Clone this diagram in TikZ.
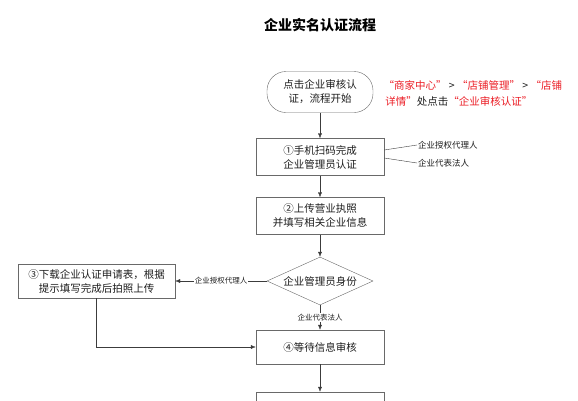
\documentclass[tikz,border=0pt]{standalone}
\usepackage{fontspec}
\setmainfont{Noto Sans CJK SC}
\usetikzlibrary{arrows.meta,positioning,shapes.geometric}
\definecolor{lineGray}{RGB}{60,60,60}
\definecolor{boxGray}{RGB}{105,105,105}
\definecolor{textGray}{RGB}{30,30,30}
\definecolor{noteRed}{RGB}{235,28,36}
\tikzset{
  proc/.style={draw=boxGray, thin, fill=white, align=center, minimum width=128pt, minimum height=37pt, inner sep=2pt, text=textGray, font=\fontsize{10.5}{14}\selectfont},
  startend/.style={draw=boxGray, thin, rounded corners=19pt, fill=white, align=center, minimum width=106pt, minimum height=41pt, text=textGray, font=\fontsize{10.5}{14}\selectfont},
  decision/.style={draw=boxGray, thin, diamond, fill=white, minimum width=106pt, minimum height=48pt, inner sep=0pt, text=textGray, font=\fontsize{10.5}{14}\selectfont},
  arrow/.style={-{Latex[length=5pt,width=4pt]}, lineGray, thin},
  link/.style={lineGray, thin},
  lbl/.style={font=\fontsize{7.5}{9}\selectfont, text=textGray, fill=white, inner sep=1pt},
  note/.style={align=left, font=\fontsize{10.5}{16}\selectfont, text=textGray}
}
\newcommand{\red}[1]{\textcolor{noteRed}{#1}}

\begin{document}
\begin{tikzpicture}[x=1pt,y=-1pt]
  \useasboundingbox (0,0) rectangle (578,400);
  \clip (0,0) rectangle (578,400);
  \node[font=\fontsize{14}{16}\selectfont\bfseries] (title) at (320,25) {企业实名认证流程};
  \node[startend] (start) at (320,92) {点击企业审核认\\证，流程开始};
  \node[note, anchor=west] (hint) at (380,93) {\red{“商家中心”} > \red{“店铺管理”} > \red{“店铺}\\\,\red{详情”}处点击\red{“企业审核认证”}};
  \node[proc] (scan) at (320,157) {①手机扫码完成\\企业管理员认证};
  \node[lbl, anchor=west, font=\fontsize{8.5}{10}\selectfont] (agentTop) at (417,145) {企业授权代理人};
  \node[lbl, anchor=west, font=\fontsize{8.5}{10}\selectfont] (legalTop) at (417,163) {企业代表法人};
  \node[proc] (upload) at (320,216) {②上传营业执照\\并填写相关企业信息};
  \node[decision] (role) at (320,281) {\makebox[0pt]{企业管理员身份}};
  \node[proc, minimum width=157pt, minimum height=34pt] (form) at (96.5,281) {③下载企业认证申请表，根据\\提示填写完成后拍照上传};
  \node[proc, minimum height=34pt] (review) at (320,347) {④等待信息审核};
  \node[proc, minimum height=36pt] (next) at (320,410) {};

  \draw[arrow] (start) -- (scan);
  \draw[link] ([yshift=7pt]scan.east) -- (agentTop.west);
  \draw[link] ([yshift=-1pt]scan.east) -- (legalTop.west);
  \draw[arrow] (scan) -- (upload);
  \draw[arrow] (upload) -- (role);
  \draw[arrow] (role.west) -- node[lbl]{企业授权代理人} (form.east);
  \draw[arrow] (role.south) -- node[lbl, pos=0.5]{企业代表法人} (review.north);
  \draw[arrow] (form.south) |- (review.west);
  \draw[arrow] (review) -- (next);
\end{tikzpicture}
\end{document}
